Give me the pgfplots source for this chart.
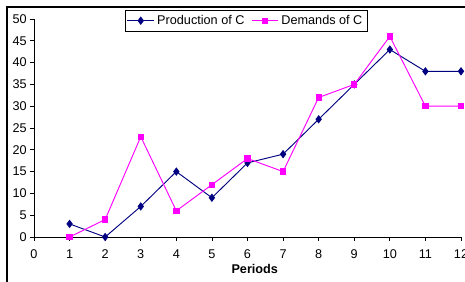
\documentclass[border=0pt]{standalone}
\usepackage{pgfplots}
\pgfplotsset{compat=1.18}
\usepackage{fontspec}
\setmainfont{Liberation Sans}
\definecolor{prodc}{RGB}{0,0,128}
\definecolor{demc}{RGB}{255,0,255}
\begin{document}
\begin{tikzpicture}[x=0.75pt,y=0.75pt]
\useasboundingbox (-34,-45) rectangle (431,237);
\draw[black, line width=1.2pt] (-27,-60) -- (-27,230) -- (460,230);
\begin{axis}[
  at={(0,0)}, anchor=origin,
  scale only axis,
  width=320.25pt, height=163.5pt,
  xmin=0, xmax=12, ymin=0, ymax=50,
  xtick={0,1,...,12}, ytick={0,5,...,50},
  axis x line=bottom, axis y line=left,
  axis line style={-, line width=0.6pt},
  tick style={black, line width=0.6pt},
  tick align=outside,
  major tick length=3pt,
  /pgf/number format/assume math mode=true,
  tick label style={font=\fontsize{9.5}{11}\selectfont},
  xticklabel style={yshift=-3pt},
  yticklabel style={xshift=1pt},
  xlabel={\textbf{Periods}},
  xlabel style={font=\fontsize{9.5}{11}\selectfont, at={(0.517,0)}, anchor=north, yshift=-17pt},
  legend columns=2,
  legend style={at={(0.4965,1.041)}, anchor=north, draw=black, line width=0.6pt,
    font=\fontsize{9.5}{11}\selectfont, inner sep=1.5pt,
    /tikz/every even column/.append style={column sep=3pt}},
  legend image code/.code={%
    \draw[mark repeat=2,mark phase=2,#1] plot coordinates {(0pt,0pt) (10pt,0pt) (20pt,0pt)};},
  legend cell align=left,
  clip=false,
]
\addplot[prodc, line width=0.7pt, mark=diamond*, mark size=2.6pt, mark options={fill=prodc, draw=prodc}]
 coordinates {(1,3)(2,0)(3,7)(4,15)(5,9)(6,17)(7,19)(8,27)(9,35)(10,43)(11,38)(12,38)};
\addlegendentry{Production of C}
\addplot[demc, line width=0.7pt, mark=square*, mark size=2pt, mark options={fill=demc, draw=demc}]
 coordinates {(1,0)(2,4)(3,23)(4,6)(5,12)(6,18)(7,15)(8,32)(9,35)(10,46)(11,30)(12,30)};
\addlegendentry{Demands of C}
\end{axis}
\end{tikzpicture}
\end{document}
